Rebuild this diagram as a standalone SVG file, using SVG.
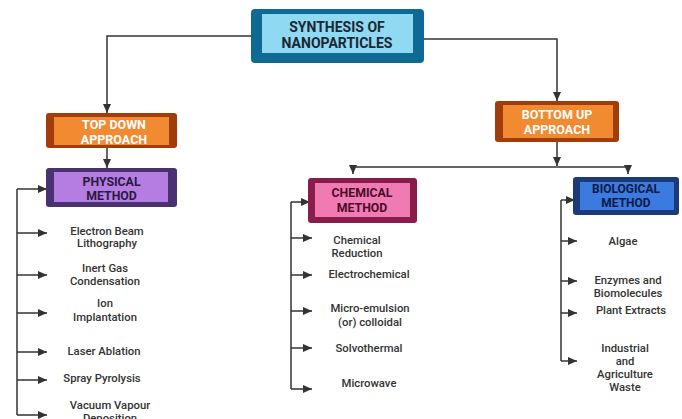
<svg xmlns="http://www.w3.org/2000/svg" width="682" height="419" viewBox="0 0 682 419">
<style>
.c{fill:none;stroke:#333;stroke-width:1.5}
.a{marker-end:url(#ah)}
.t{font-family:Roboto,"Liberation Sans",sans-serif;font-weight:700;text-anchor:middle}
.i{font-family:Roboto,"Liberation Sans",sans-serif;font-weight:500;font-size:11.3px;fill:#333;text-anchor:middle}
</style>
<defs>
<marker id="ah" markerUnits="userSpaceOnUse" markerWidth="10" markerHeight="10" viewBox="0 0 10 10" refX="9" refY="5" orient="auto">
<path d="M0,1 L9,5 L0,9 Z" fill="#333"/>
</marker>
</defs>
<rect width="682" height="419" fill="#fff"/>
<g id="connectors">
<path class="c a" d="M251,36 H107 V113"/>
<path class="c a" d="M424,39 H557 V101"/>
<path class="c a" d="M107,148 V168"/>
<path class="c a" d="M557,142 V166"/>
<path class="c" d="M353,167 H628"/>
<path class="c a" d="M353,167 V174"/>
<path class="c a" d="M628,167 V174"/>
<path class="c" d="M17,189 V415"/>
<path class="c a" d="M17,189 H47"/>
<path class="c a" d="M17,233 H47"/>
<path class="c a" d="M17,275 H47"/>
<path class="c a" d="M17,313 H47"/>
<path class="c a" d="M17,352 H47"/>
<path class="c a" d="M17,380 H47"/>
<path class="c a" d="M17,415 H47"/>
<path class="c" d="M291,202 V389"/>
<path class="c a" d="M291,202 H310"/>
<path class="c a" d="M291,238 H312"/>
<path class="c a" d="M291,275 H312"/>
<path class="c a" d="M291,311 H312"/>
<path class="c a" d="M291,348 H312"/>
<path class="c a" d="M291,389 H312"/>
<path class="c" d="M561,200 V361"/>
<path class="c a" d="M561,200 H575"/>
<path class="c a" d="M561,241 H577"/>
<path class="c a" d="M561,281 H577"/>
<path class="c a" d="M561,313 H577"/>
<path class="c a" d="M561,361 H577"/>
</g>
<g id="synthesis">
<rect x="251" y="9" width="173" height="54" rx="4" fill="#0f6a93"/>
<rect x="262" y="14" width="151" height="39" fill="#8fd9f2"/>
<text class="t" x="337" y="32" font-size="14" fill="#1a2733">SYNTHESIS OF</text>
<text class="t" x="337" y="48" font-size="14" fill="#1a2733">NANOPARTICLES</text>
</g>
<g id="topdown">
<rect x="46" y="113" width="131" height="35" rx="3" fill="#a13c0b"/>
<rect x="54" y="117" width="115" height="28" fill="#f28a32"/>
<text class="t" x="114" y="129" font-size="12.5" fill="#fff">TOP DOWN</text>
<text class="t" x="114" y="144" font-size="12.5" fill="#fff">APPROACH</text>
</g>
<g id="bottomup">
<rect x="495" y="101" width="124" height="41" rx="3" fill="#a13c0b"/>
<rect x="503" y="105" width="110" height="33" fill="#f28a32"/>
<text class="t" x="557" y="119" font-size="12.5" fill="#fff">BOTTOM UP</text>
<text class="t" x="557" y="134" font-size="12.5" fill="#fff">APPROACH</text>
</g>
<g id="physical">
<rect x="46" y="168" width="131" height="39" rx="3" fill="#4a3170"/>
<rect x="54" y="172" width="114" height="30" fill="#b57ce2"/>
<text class="t" x="111.5" y="186" font-size="12.3" fill="#2a1a40">PHYSICAL</text>
<text class="t" x="111.5" y="200" font-size="12.3" fill="#2a1a40">METHOD</text>
</g>
<g id="chemical">
<rect x="308" y="178" width="109" height="45" rx="3" fill="#8a1c4c"/>
<rect x="315" y="183" width="95" height="34" fill="#f07ab2"/>
<text class="t" x="362" y="197" font-size="12.3" fill="#4a0a2a">CHEMICAL</text>
<text class="t" x="362" y="212" font-size="12.3" fill="#4a0a2a">METHOD</text>
</g>
<g id="biological">
<rect x="573" y="177" width="106" height="38" rx="3" fill="#1a3a78"/>
<rect x="580" y="182" width="94" height="28" fill="#3b7be0"/>
<text class="t" x="626" y="193" font-size="12" fill="#0b1a45">BIOLOGICAL</text>
<text class="t" x="626" y="207" font-size="12" fill="#0b1a45">METHOD</text>
</g>
<g id="physical-items">
<text class="i" x="107" y="235">Electron Beam</text>
<text class="i" x="107" y="247">Lithography</text>
<text class="i" x="105" y="272">Inert Gas</text>
<text class="i" x="105" y="285">Condensation</text>
<text class="i" x="105" y="307">Ion</text>
<text class="i" x="105" y="321">Implantation</text>
<text class="i" x="104" y="355">Laser Ablation</text>
<text class="i" x="102" y="382">Spray Pyrolysis</text>
<text class="i" x="110" y="409">Vacuum Vapour</text>
<text class="i" x="110" y="422">Deposition</text>
</g>
<g id="chemical-items">
<text class="i" x="357" y="244">Chemical</text>
<text class="i" x="357" y="257">Reduction</text>
<text class="i" x="369" y="278">Electrochemical</text>
<text class="i" x="370" y="312">Micro-emulsion</text>
<text class="i" x="370" y="326">(or) colloidal</text>
<text class="i" x="369" y="352">Solvothermal</text>
<text class="i" x="369" y="387">Microwave</text>
</g>
<g id="biological-items">
<text class="i" x="623" y="245">Algae</text>
<text class="i" x="628" y="284">Enzymes and</text>
<text class="i" x="628" y="297">Biomolecules</text>
<text class="i" x="631" y="314">Plant Extracts</text>
<text class="i" x="625" y="352">Industrial</text>
<text class="i" x="625" y="365">and</text>
<text class="i" x="625" y="378">Agriculture</text>
<text class="i" x="625" y="391">Waste</text>
</g>
</svg>
